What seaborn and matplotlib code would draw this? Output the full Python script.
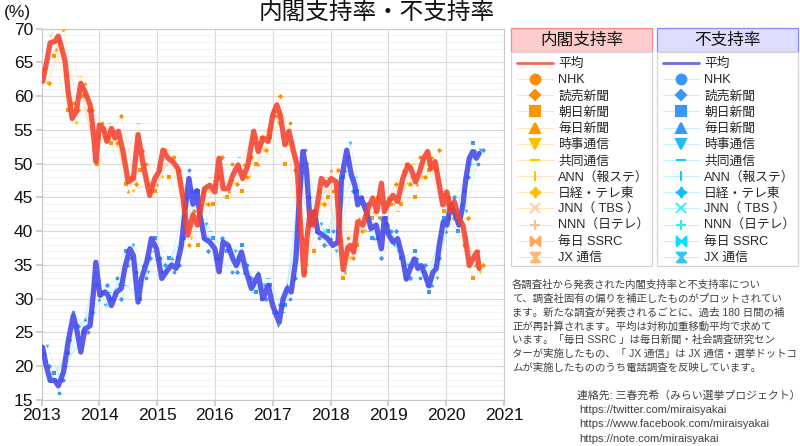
import numpy as np
import pandas as pd
import matplotlib
matplotlib.use('Agg')
import matplotlib.pyplot as plt
from matplotlib.lines import Line2D
from matplotlib.patches import Rectangle
from matplotlib.path import Path
from matplotlib.ticker import MultipleLocator
import seaborn as sns

sns.set_theme(style='white')
plt.rcParams['font.family'] = ['Liberation Sans', 'Noto Sans CJK JP']

# smoothed averages (decimal year, %)
support_dates = [2013.02, 2013.09, 2013.15, 2013.23, 2013.29, 2013.35, 2013.41, 2013.46, 2013.53, 2013.60,
                 2013.68, 2013.75, 2013.84, 2013.90, 2013.94, 2014.00, 2014.07, 2014.13, 2014.21, 2014.27,
                 2014.33, 2014.41, 2014.50, 2014.59, 2014.67, 2014.76, 2014.87, 2014.96, 2015.03, 2015.10,
                 2015.19, 2015.27, 2015.36, 2015.45, 2015.53, 2015.62, 2015.70, 2015.82, 2015.91, 2016.00,
                 2016.07, 2016.14, 2016.23, 2016.31, 2016.40, 2016.48, 2016.57, 2016.67, 2016.75, 2016.83,
                 2016.92, 2017.00, 2017.07, 2017.13, 2017.21, 2017.28, 2017.36, 2017.42, 2017.48, 2017.54,
                 2017.59, 2017.65, 2017.71, 2017.78, 2017.84, 2017.93, 2018.01, 2018.10, 2018.16, 2018.22,
                 2018.30, 2018.34, 2018.40, 2018.47, 2018.56, 2018.65, 2018.73, 2018.80, 2018.88, 2018.93,
                 2019.01, 2019.08, 2019.16, 2019.25, 2019.34, 2019.39, 2019.47, 2019.54, 2019.61, 2019.68,
                 2019.74, 2019.81, 2019.87, 2019.94, 2020.01, 2020.08, 2020.14, 2020.22, 2020.29, 2020.34,
                 2020.40, 2020.46, 2020.53, 2020.57]
support_avg = [62.2, 65.1, 67.9, 68.1, 68.9, 67.1, 65.1, 60.7, 56.7, 57.7,
               61.9, 60.7, 58.7, 54.3, 50.3, 55.7, 55.2, 53.3, 55.2, 53.8,
               54.8, 51.8, 47.3, 47.8, 54.3, 49.8, 45.3, 47.8, 48.8, 52.0,
               50.8, 50.3, 49.3, 44.8, 39.4, 42.4, 40.9, 46.3, 46.8, 45.8,
               50.8, 46.3, 46.3, 48.3, 49.8, 47.8, 49.8, 54.8, 51.8, 53.8,
               53.3, 57.2, 58.7, 57.2, 52.8, 54.8, 51.8, 49.8, 40.9, 33.5,
               38.9, 42.9, 40.9, 44.4, 47.8, 46.8, 47.8, 47.3, 39.5, 34.3,
               37.6, 37.9, 36.9, 41.4, 40.9, 43.4, 44.9, 42.9, 47.1, 42.9,
               44.4, 45.3, 44.4, 47.8, 49.8, 49.3, 47.3, 48.8, 50.8, 51.8,
               49.3, 50.3, 47.3, 43.9, 45.8, 42.9, 44.4, 41.9, 40.9, 38.4,
               34.9, 35.9, 36.9, 34.5]

oppose_dates = [2013.02, 2013.08, 2013.15, 2013.23, 2013.29, 2013.38, 2013.47, 2013.55, 2013.62, 2013.68,
                2013.75, 2013.84, 2013.90, 2013.94, 2014.01, 2014.10, 2014.15, 2014.21, 2014.30, 2014.38,
                2014.44, 2014.53, 2014.59, 2014.67, 2014.73, 2014.82, 2014.90, 2014.99, 2015.08, 2015.16,
                2015.25, 2015.33, 2015.42, 2015.48, 2015.55, 2015.62, 2015.69, 2015.74, 2015.82, 2015.91,
                2016.00, 2016.07, 2016.14, 2016.23, 2016.31, 2016.37, 2016.46, 2016.54, 2016.63, 2016.75,
                2016.83, 2016.92, 2017.00, 2017.11, 2017.18, 2017.25, 2017.32, 2017.40, 2017.45, 2017.52,
                2017.58, 2017.65, 2017.72, 2017.78, 2017.87, 2017.95, 2018.04, 2018.13, 2018.19, 2018.28,
                2018.36, 2018.42, 2018.47, 2018.53, 2018.62, 2018.70, 2018.79, 2018.88, 2018.93, 2019.01,
                2019.08, 2019.16, 2019.25, 2019.31, 2019.38, 2019.45, 2019.51, 2019.57, 2019.62, 2019.70,
                2019.77, 2019.83, 2019.88, 2019.95, 2020.01, 2020.08, 2020.16, 2020.22, 2020.29, 2020.34,
                2020.40, 2020.46, 2020.52, 2020.57]
oppose_avg = [22.8, 20.1, 17.9, 17.9, 17.1, 19.1, 24.1, 27.5, 25.0, 22.1,
              25.5, 26.0, 31.0, 35.4, 30.5, 31.0, 30.5, 29.0, 31.0, 31.5,
              34.5, 37.4, 36.4, 29.5, 33.0, 35.4, 38.9, 37.4, 33.0, 34.0,
              35.0, 34.5, 37.9, 42.9, 47.8, 44.0, 46.0, 42.4, 38.9, 38.4,
              37.4, 34.0, 38.4, 37.9, 35.9, 34.9, 36.9, 34.0, 31.5, 33.5,
              30.0, 32.0, 29.0, 26.5, 30.0, 31.5, 31.0, 35.9, 43.4, 51.8,
              49.3, 40.9, 42.9, 39.9, 39.4, 38.9, 37.9, 38.4, 47.8, 52.0,
              48.3, 46.8, 43.9, 44.9, 42.9, 40.4, 40.9, 37.4, 41.9, 39.4,
              38.4, 38.9, 35.9, 32.9, 34.5, 35.9, 34.5, 34.9, 33.9, 31.9,
              33.9, 34.5, 37.9, 41.4, 40.9, 43.9, 42.4, 40.9, 43.9, 47.8,
              50.8, 51.8, 50.8, 51.5]

# individual (bias-corrected) polls, roughly quarterly per pollster
poll_base = [2013.05 + 0.25 * k for k in range(31)]
poll_lag = {'NHK': 0.00, '読売新聞': 0.08, '朝日新聞': 0.16, '毎日新聞': 0.20, '時事通信': 0.04,
            '共同通信': 0.12, 'JNN（ TBS ）': 0.10}
support_polls = {
    'NHK': [64, 68, 59, 58, 56, 53, 48, 50, 49, 51, 38, 46, 48, 50, 48, 54, 57, 56, 34, 46, 46, 39, 40, 45,
            44, 50, 51, 49, 45, 38, 37],
    '読売新聞': [62, 70, 58, 58, 54, 57, 47, 46, 52, 49, 43, 44, 51, 47, 51, 52, 60, 49, 42, 44, 49, 36, 43, 42,
             47, 47, 48, 52, 42, 42, 35],
    '朝日新聞': [66, 58, 60, 50, 53, 47, 49, 46, 48, 42, 38, 44, 45, 46, 50, 54, 50, 42, 37, 45, 33, 38, 42, 41,
             44, 45, 49, 43, 40, 33],
    '毎日新聞': [67, 59, 62, 54, 55, 46, 52, 47, 51, 40, 44, 47, 46, 50, 50, 58, 53, 39, 42, 49, 34, 42, 43, 45,
             49, 47, 51, 44, 42, 35],
    '時事通信': [62, 67, 56, 58, 54, 53, 46, 47, 48, 49, 39, 44, 48, 47, 48, 52, 56, 53, 35, 44, 46, 36, 40, 42,
             44, 47, 48, 49, 43, 39, 34],
    '共同通信': [70, 63, 63, 51, 56, 50, 56, 45, 52, 48, 40, 48, 45, 51, 53, 55, 54, 51, 41, 48, 37, 40, 42, 45,
             43, 50, 50, 46, 42, 37],
    'JNN（ TBS ）': [69, 64, 61, 53, 55, 51, 53, 47, 50, 47, 41, 46, 47, 49, 54, 54, 56, 50, 41, 46, 39, 38, 43,
                   44, 45, 48, 51, 46, 43, 36],
}
oppose_polls = {
    'NHK': [22, 16, 28, 25, 31, 33, 36, 33, 36, 34, 49, 39, 36, 34, 35, 30, 28, 30, 52, 39, 40, 51, 45, 39,
            40, 33, 33, 35, 42, 46, 50],
    '読売新聞': [20, 18, 26, 28, 32, 30, 34, 36, 35, 35, 46, 37, 39, 34, 33, 30, 29, 33, 45, 38, 40, 46, 44, 36,
             40, 33, 35, 36, 45, 48, 52],
    '朝日新聞': [19, 22, 25, 32, 30, 37, 30, 39, 36, 39, 46, 39, 37, 38, 31, 32, 29, 46, 41, 40, 48, 46, 39, 42,
             36, 37, 31, 42, 40, 53],
    '毎日新聞': [18, 24, 27, 30, 31, 35, 35, 36, 36, 45, 43, 36, 38, 34, 34, 28, 32, 50, 40, 39, 49, 45, 39, 41,
             35, 36, 32, 40, 44, 52],
    '時事通信': [23, 18, 26, 27, 29, 32, 38, 34, 34, 36, 46, 41, 34, 37, 33, 32, 26, 32, 50, 41, 37, 53, 43, 42,
             38, 35, 34, 33, 44, 43, 52],
    '共同通信': [19, 20, 24, 34, 31, 32, 31, 37, 35, 39, 44, 40, 37, 37, 31, 33, 28, 40, 43, 38, 45, 48, 40, 42,
             37, 36, 32, 41, 43, 50],
    'JNN（ TBS ）': [18, 21, 23, 32, 29, 33, 30, 38, 34, 38, 45, 39, 38, 36, 32, 32, 29, 38, 42, 40, 43, 48, 42,
                   40, 38, 35, 33, 39, 42, 50],
}

pollsters = ['NHK', '読売新聞', '朝日新聞', '毎日新聞', '時事通信', '共同通信', 'ANN（報ステ）',
             '日経・テレ東', 'JNN（ TBS ）', 'NNN（日テレ）', '毎日 SSRC', 'JX 通信']
year_ticks = list(range(2013, 2022))

bowtie = Path([(-1, -1), (1, 1), (1, -1), (-1, 1), (-1, -1)])
hourglass = Path([(-1, -1), (1, 1), (-1, 1), (1, -1), (-1, -1)])
star4 = (4, 1, 0)
markers = ['o', 'D', 's', '^', 'v', '_', '|', star4, 'x', '+', bowtie, hourglass]
msizes = [7, 5, 6.5, 6.5, 6.5, 7.5, 7.5, 7.5, 7, 7.5, 7, 7]
support_colors = ['#ff8c00', '#ff8c00', '#ff9500', '#ff9500', '#ffbf00', '#ffc400', '#ffc400', '#ffbf00',
                  '#ffcf9f', '#ffc090', '#ffa860', '#ffb870']
oppose_colors = ['#3b97f5', '#3b97f5', '#3b97f5', '#3b97f5', '#25b8f5', '#14c8f0', '#14d0f5', '#14c0f0',
                 '#40f0ff', '#30ecec', '#00e0ff', '#30c8f0']
RED = '#f5412f'
BLUE = '#4646ea'

W, H = 800, 446
fig = plt.figure(figsize=(W / 100, H / 100), dpi=100)


def fx(px):
    return px / W


def fy(py):
    return 1 - py / H


ax = fig.add_axes([fx(41.5), fy(400), (504 - 41.5) / W, (400 - 28.6) / H])

# individual polls: faint connecting lines and small markers
for polls, colors, lc in [(support_polls, support_colors, '#ffdcaa'),
                          (oppose_polls, oppose_colors, '#b4eaff')]:
    for name, vals in polls.items():
        i = pollsters.index(name)
        d = pd.DataFrame({'date': [b + poll_lag[name] for b in poll_base[:len(vals)]], 'pct': vals})
        sns.lineplot(data=d, x='date', y='pct', ax=ax, color=lc, lw=0.6, alpha=0.6, zorder=1)
        sns.scatterplot(data=d, x='date', y='pct', ax=ax, color=colors[i], marker=markers[i],
                        s=7, linewidth=0.6 if markers[i] in ('_', '|', 'x', '+') else 0, zorder=2)

sns.lineplot(x=support_dates, y=support_avg, ax=ax, color=RED, lw=3.8, alpha=0.88, zorder=4)
sns.lineplot(x=oppose_dates, y=oppose_avg, ax=ax, color=BLUE, lw=3.8, alpha=0.88, zorder=3)

ax.set_xlim(2013, 2021)
ax.set_ylim(15, 70)
ax.set_xticks(year_ticks)
ax.set_xticklabels([str(y) for y in year_ticks])
ax.yaxis.set_major_locator(MultipleLocator(5))
ax.yaxis.set_minor_locator(MultipleLocator(1))
ax.grid(True, which='major', color='#d9d9d9', lw=0.8)
ax.grid(True, which='minor', axis='y', color='#f0f0f0', lw=0.6)
ax.set_axisbelow(True)
ax.set_xlabel('')
ax.set_ylabel('')
for sp in ax.spines.values():
    sp.set_color('#c8c8c8')
    sp.set_linewidth(0.8)
ax.tick_params(axis='both', which='major', labelsize=12.5, length=4, color='#c8c8c8', pad=2,
               labelcolor='#111111', bottom=True, left=True)
ax.tick_params(axis='y', which='minor', length=0)

fig.text(fx(4), fy(13), '(%)', fontsize=12.5, va='center', ha='left', color='#111111')
fig.text(fx(377), fy(14), '内閣支持率・不支持率', fontsize=17, va='center', ha='center', color='#111111')

# legend panels
for x0, head, fc, ec, colors, lc, avgc in [(511, '内閣支持率', '#ffcccc', '#ff8888', support_colors, '#ffe2bf', RED),
                                          (657, '不支持率', '#ddddff', '#8888ff', oppose_colors, '#c4eeff', BLUE)]:
    fig.add_artist(Rectangle((fx(x0), fy(52)), 141 / W, 24 / H, transform=fig.transFigure,
                             fc=fc, ec=ec, lw=0.9))
    fig.add_artist(Rectangle((fx(x0), fy(266)), 141 / W, 214 / H, transform=fig.transFigure,
                             fc='white', ec='#d4d4d4', lw=0.9))
    fig.text(fx(x0 + 70.5), fy(40), head, fontsize=12, ha='center', va='center', color='#111111')
    handles = [Line2D([], [], color=avgc, lw=2, alpha=0.8)]
    for i in range(len(pollsters)):
        handles.append(Line2D([], [], color=lc, lw=0.8, marker=markers[i], ms=msizes[i],
                              mfc=colors[i], mec=colors[i], mew=1.5))
    fig.legend(handles, ['平均'] + pollsters, loc='upper left', bbox_to_anchor=(fx(x0 + 5), fy(57)),
               frameon=False, fontsize=9.2, handlelength=2.8, handletextpad=0.4, labelspacing=0.315,
               borderpad=0.1, borderaxespad=0)

note_lines = ['各調査社から発表された内閣支持率と不支持率につい',
              'て、調査社固有の偏りを補正したものがプロットされてい',
              'ます。新たな調査が発表されるごとに、過去 180 日間の補',
              '正が再計算されます。平均は対称加重移動平均で求めて',
              'います。「毎日 SSRC 」は毎日新聞・社会調査研究セン',
              'ターが実施したもの、「 JX 通信」は JX 通信・選挙ドットコ',
              'ムが実施したもののうち電話調査を反映しています。']
for k, line in enumerate(note_lines):
    fig.text(fx(512), fy(285 + 13.8 * k), line, fontsize=7.5, ha='left', va='center', color='#404040')

contact_lines = ['連絡先: 三春充希（みらい選挙プロジェクト）',
                 'https://twitter.com/miraisyakai',
                 'https://www.facebook.com/miraisyakai',
                 'https://note.com/miraisyakai']
for k, line in enumerate(contact_lines):
    fig.text(fx(577 if k == 0 else 579), fy(395 + 14.7 * k), line, fontsize=8.1 if k else 7.8,
             ha='left', va='center', color='#404040')

fig.savefig('out.png', dpi=100)
